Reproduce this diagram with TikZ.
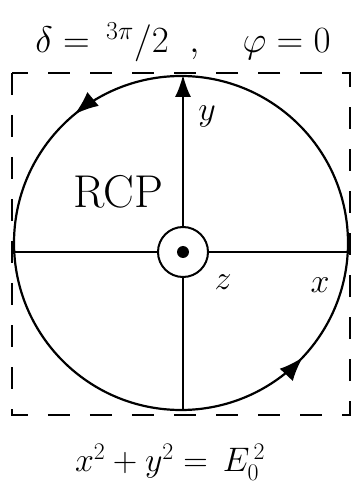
\RequirePackage{fix-cm}
\documentclass[tikz,border=0pt]{standalone}
\usepackage{amsmath,amssymb}
\usetikzlibrary{arrows.meta,decorations.markings}

\begin{document}
\begin{tikzpicture}[
  x=1pt,y=1pt,
  frame/.style={dash pattern=on 22pt off 20pt, line width=2pt},
  axis/.style={line width=1.8pt},
  orbit/.style={
    line width=2.2pt,
    postaction={decorate},
    decoration={markings,
      mark=at position 0.36 with {\arrow{Latex[length=24pt,width=18pt]}},
      mark=at position 0.88 with {\arrow{Latex[length=24pt,width=18pt]}}}
  },
  hand/.style={font=\fontsize{34}{40}\selectfont, inner sep=0pt}
]
\useasboundingbox (-183,252) rectangle (172,-232);

% Dashed frame
\draw[frame] (-171,179) rectangle (167,-163);

% Field circle
\draw[orbit] (-2,9) circle[radius=167pt];

% Axes
\node[circle,draw,line width=2pt,fill=white,minimum size=50pt] (origin) at (0,0) {};
\node[circle,fill=black,minimum size=12pt,inner sep=0pt] (dot) at (origin) {};

\coordinate (ytop) at (0,177);
\coordinate (ybot) at (0,-158);
\coordinate (xleft) at (-169,0);
\coordinate (xright) at (165,0);

\draw[axis,-{Latex[length=22pt,width=16pt]}] (origin.north) -- (ytop);
\draw[axis] (origin.south) -- (ybot);
\draw[axis] (origin.west) -- (xleft);
\draw[axis] (origin.east) -- (xright);

% Labels
\node[hand] (ylab) at (24,136) {$y$};
\node[hand] (xlab) at (137,-33) {$x$};
\node[hand] (zlab) at (40,-30) {$z$};
\node[hand,font=\fontsize{46}{52}\selectfont] (rcp) at (-65,60) {RCP};

\node[hand,font=\fontsize{37}{44}\selectfont] (title) at (0,210)
  {$\delta = \,{}^{3\pi}/2 \;\;,\quad \varphi = 0$};
\node[hand] (law) at (-13,-210) {$x^2 + y^2 = \,E_{0}^{\,2}$};

\end{tikzpicture}
\end{document}
